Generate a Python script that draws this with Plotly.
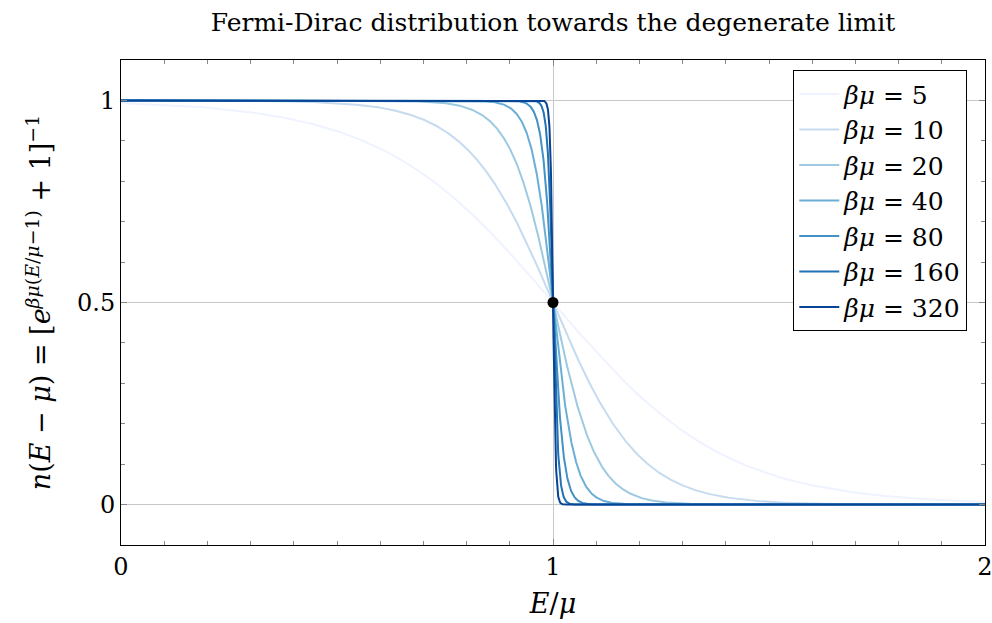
import numpy as np
import plotly.graph_objects as go

# Inverse temperatures (in units of the chemical potential) for each curve
beta_mu = [5, 10, 20, 40, 80, 160, 320]
colors = ["#eff3ff", "#c6dbef", "#9ecae1", "#6baed6", "#4292c6", "#2171b5", "#084594"]

x_ticks = [0, 1, 2]
y_ticks = [0, 0.5, 1]
y_tick_text = ["0", "0.5", "1"]

# Half-filling point at E = mu
mid_x = [1]
mid_y = [0.5]

FONT = "DejaVu Serif"

e_over_mu = np.linspace(0, 2, 4001)

fig = go.Figure()
for bm, c in zip(beta_mu, colors):
    # n = 1 / (exp(bm*(x-1)) + 1), written via tanh to stay finite
    occ = 0.5 * (1.0 - np.tanh(0.5 * bm * (e_over_mu - 1.0)))
    fig.add_trace(go.Scatter(
        x=e_over_mu, y=occ, mode="lines",
        line=dict(color=c, width=2),
        name=f"<i>βμ</i> = {bm}",
    ))

fig.add_trace(go.Scatter(
    x=mid_x, y=mid_y, mode="markers",
    marker=dict(color="black", size=11),
    showlegend=False, hoverinfo="skip",
))

axis_common = dict(
    showline=True, linecolor="black", linewidth=1, mirror="ticks",
    ticks="inside", ticklen=6, tickcolor="#888888", tickwidth=1,
    showgrid=True, gridcolor="#c8c8c8", gridwidth=1,
    zeroline=False, automargin=False, ticklabeloverflow="allow",
    tickfont=dict(family=FONT, size=24, color="black"),
)

fig.update_xaxes(
    range=[0, 2], tickvals=x_ticks, ticktext=[str(v) for v in x_ticks],
    minor=dict(dtick=0.1, ticks="inside", ticklen=4, tickcolor="#888888", showgrid=False),
    title=dict(text="<i>E</i>/<i>μ</i>", font=dict(family=FONT, size=27, color="black"), standoff=14),
    **axis_common,
)
fig.update_yaxes(
    range=[-0.1, 1.1], tickvals=y_ticks, ticktext=y_tick_text,
    minor=dict(dtick=0.1, ticks="inside", ticklen=4, tickcolor="#888888", showgrid=False),
    title=dict(
        text="<i>n</i>(<i>E</i> − <i>μ</i>) = [<i>e</i><sup><i>βμ</i>(<i>E</i>/<i>μ</i>−1)</sup> + 1]<sup>−1</sup>",
        font=dict(family=FONT, size=27, color="black"), standoff=18,
    ),
    **axis_common,
)

fig.update_layout(
    width=992, height=623,
    margin=dict(l=121, r=7, t=60, b=78),
    paper_bgcolor="white", plot_bgcolor="white",
    title=dict(
        text="Fermi-Dirac distribution towards the degenerate limit",
        x=0.5575, xanchor="center", y=0.965, yanchor="middle",
        font=dict(family=FONT, size=25, color="black"),
    ),
    legend=dict(
        x=0.9795, xanchor="right", y=0.979, yanchor="top",
        bgcolor="white", bordercolor="black", borderwidth=1,
        font=dict(family=FONT, size=25, color="black"),
        itemwidth=40,
    ),
    showlegend=True,
)

fig.write_html("out.html")
